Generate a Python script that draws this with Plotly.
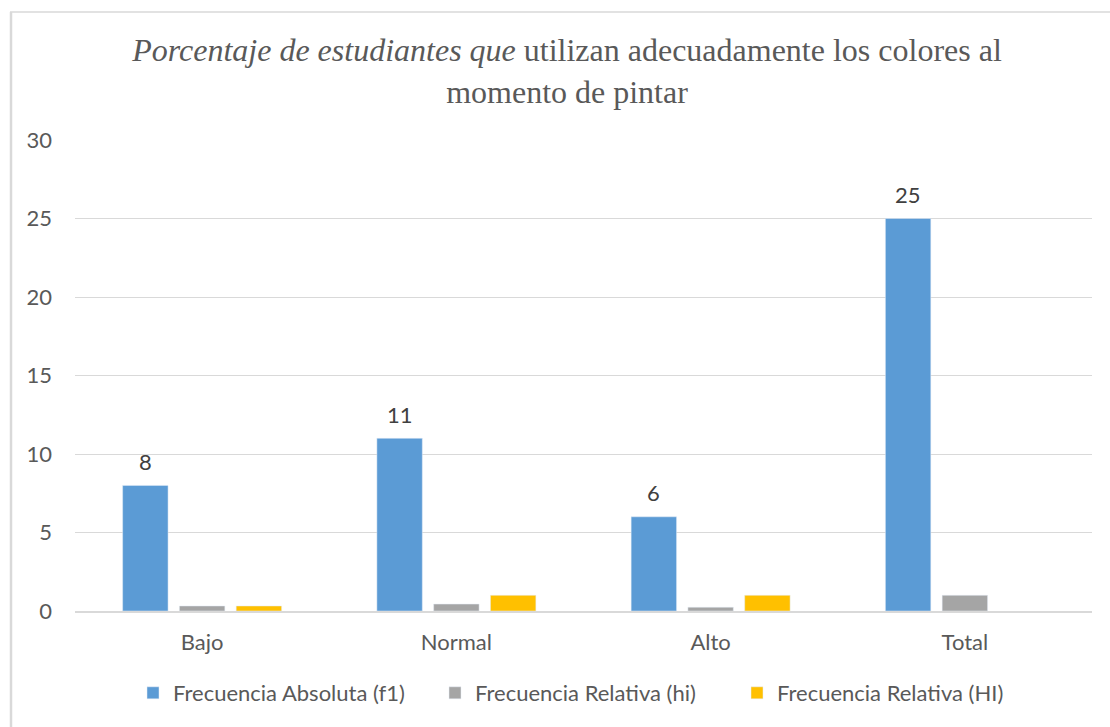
import plotly.graph_objects as go

categories = ["Bajo", "Normal", "Alto", "Total"]
f1 = [8, 11, 6, 25]
hi = [0.32, 0.44, 0.24, 1.0]
HI = [0.32, 1.0, 1.0, None]
series_names = ["Frecuencia Absoluta (f1)", "Frecuencia Relativa (hi)", "Frecuencia Relativa (HI)"]
y_ticks = [0, 5, 10, 15, 20, 25, 30]

W, H = 1110, 727
ml, mr, mt, mb = 75, 18, 140, 116
pw, ph = W - ml - mr, H - mt - mb
BARGAP = 0.33

def px_x(x):
    return (x - ml) / pw

def px_y(y):
    return (H - mb - y) / ph

FONT = "Lato, sans-serif"

fig = go.Figure()
fig.add_trace(go.Bar(x=categories, y=f1, name=series_names[0], marker_color="#5B9BD5"))
fig.add_trace(go.Bar(x=categories, y=hi, name=series_names[1], marker_color="#A5A5A5"))
fig.add_trace(go.Bar(x=categories, y=HI, name=series_names[2], marker_color="#FFC000"))

# data labels above the first series bars
slot_px = pw / len(categories) * (1 - BARGAP) / 3
annotations = [
    dict(x=c, y=v, xref="x", yref="y", text=str(v), showarrow=False,
         xshift=-slot_px, yshift=24, yanchor="middle",
         font=dict(family=FONT, size=22, color="#404040"))
    for c, v in zip(categories, f1)
]

fig.update_layout(
    width=W, height=H,
    margin=dict(l=ml, r=mr, t=mt, b=mb),
    paper_bgcolor="white", plot_bgcolor="white",
    barmode="group", bargap=BARGAP, bargroupgap=0.2,
    title=dict(
        text="<i>Porcentaje de estudiantes que</i> utilizan adecuadamente los colores al<br>momento de pintar",
        x=px_x(567), xref="paper", xanchor="center", y=1 - 61 / H, yanchor="middle",
        font=dict(family="Liberation Serif, Times New Roman, serif", size=32, color="#595959"),
    ),
    font=dict(family=FONT, color="#595959"),
    showlegend=True,
    legend=dict(orientation="h", x=px_x(586), xanchor="center", y=px_y(693), yanchor="middle",
                font=dict(size=22, color="#595959", family=FONT), traceorder="normal",
                itemwidth=30, entrywidth=257, entrywidthmode="pixels"),
    xaxis=dict(showline=True, linecolor="#D9D9D9", linewidth=1.5, ticks="",
               tickfont=dict(size=22, color="#595959"), ticklabelstandoff=11),
    yaxis=dict(range=[0, 30], tickvals=y_ticks, showgrid=True, gridcolor="#D9D9D9", gridwidth=1,
               zeroline=False, showline=False, ticks="", ticklabelstandoff=22,
               tickfont=dict(size=22, color="#595959")),
    annotations=annotations,
    shapes=[
        dict(type="line", xref="paper", yref="paper", x0=px_x(10), x1=px_x(W + 5),
             y0=px_y(12), y1=px_y(12), line=dict(color="#D9D9D9", width=1.5)),
        dict(type="line", xref="paper", yref="paper", x0=px_x(11), x1=px_x(11),
             y0=px_y(12), y1=px_y(H + 5), line=dict(color="#D9D9D9", width=2.5)),
    ],
)

fig.write_html("out.html", config={"displayModeBar": False},
               post_script="document.body.style.margin='0';document.body.style.overflow='hidden';")
